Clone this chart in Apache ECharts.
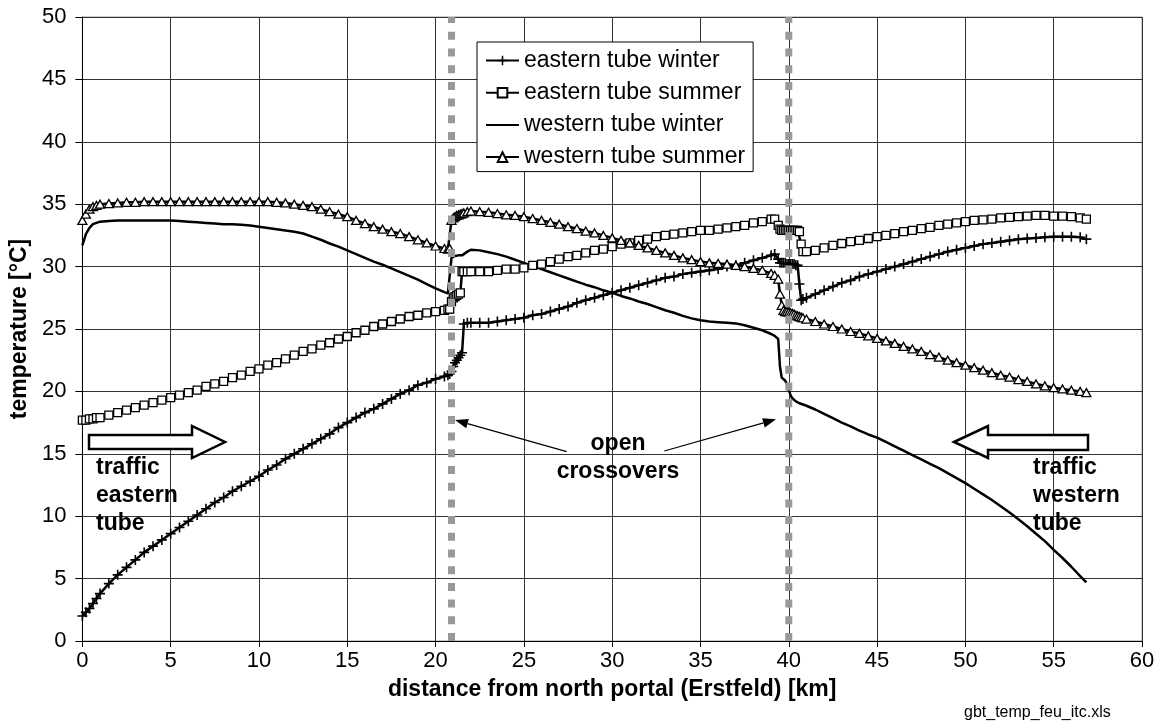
<!DOCTYPE html>
<html><head><meta charset="utf-8">
<script src="https://cdn.jsdelivr.net/npm/echarts@6/dist/echarts.min.js"></script>
<style>html,body{margin:0;padding:0;background:#fff}#c{width:1162px;height:726px}</style>
</head><body><div id="c"></div>
<script>
// distance from north portal [km]
const km = [
  0, 0.2, 0.4, 0.6, 0.8, 1.0,
  1.5, 2, 2.5, 3, 3.5, 4, 4.5, 5, 5.5, 6, 6.5, 7, 7.5, 8, 8.5, 9, 9.5, 10, 10.5, 11, 11.5, 12, 12.5, 13, 13.5, 14, 14.5, 15, 15.5, 16, 16.5, 17, 17.5, 18, 18.5, 19, 19.5, 20, 20.5,
  20.7, 20.8, 20.9, 21.0, 21.1, 21.2, 21.3, 21.4, 21.5, 21.6, 21.8,
  22, 22.5, 23, 23.5, 24, 24.5, 25, 25.5, 26, 26.5, 27, 27.5, 28, 28.5, 29, 29.5, 30, 30.5, 31, 31.5, 32, 32.5, 33, 33.5, 34, 34.5, 35, 35.5, 36, 36.5, 37, 37.5, 38, 38.5, 39,
  39.2, 39.4, 39.5, 39.6, 39.7, 39.8, 39.9, 40.0, 40.1, 40.2, 40.3, 40.4, 40.5, 40.6, 40.7, 40.8,
  41, 41.5, 42, 42.5, 43, 43.5, 44, 44.5, 45, 45.5, 46, 46.5, 47, 47.5, 48, 48.5, 49, 49.5, 50, 50.5, 51, 51.5, 52, 52.5, 53, 53.5, 54, 54.5, 55, 55.5, 56, 56.5,
  56.85
];
const easternWinter = [
  2.0, 2.3, 2.6, 3.0, 3.4, 3.8,
  4.6, 5.3, 5.9, 6.5, 7.1, 7.6, 8.1, 8.6, 9.1, 9.6, 10.1, 10.6, 11.1, 11.5, 12.0, 12.4, 12.8, 13.2, 13.7, 14.1, 14.6, 15.0, 15.4, 15.8, 16.2, 16.6, 17.1, 17.5, 17.9, 18.3, 18.6, 19.0, 19.4, 19.8, 20.1, 20.5, 20.7, 21.0, 21.2,
  21.3, 21.4, 21.6, 22.0, 22.3, 22.5, 22.7, 22.9, 23.1, 25.4, 25.5,
  25.5, 25.5, 25.5, 25.6, 25.7, 25.8, 25.9, 26.1, 26.2, 26.4, 26.6, 26.8, 27.1, 27.3, 27.5, 27.7, 27.9, 28.1, 28.3, 28.5, 28.7, 28.9, 29.1, 29.2, 29.4, 29.5, 29.6, 29.7, 29.8, 30.0, 30.1, 30.3, 30.5, 30.7, 30.9,
  31.0, 30.6, 30.3, 30.3, 30.3, 30.3, 30.2, 30.2, 30.2, 30.2, 30.2, 30.1, 30.1, 28.6, 27.3, 27.4,
  27.5, 27.8, 28.1, 28.4, 28.7, 28.9, 29.2, 29.4, 29.6, 29.8, 30.0, 30.2, 30.4, 30.6, 30.8, 31.0, 31.2, 31.35, 31.5, 31.65, 31.8, 31.9, 32.0, 32.1, 32.2, 32.25, 32.3, 32.35, 32.4, 32.4, 32.4, 32.35,
  32.2
];
const easternSummer = [
  17.7, 17.7, 17.8, 17.8, 17.9, 17.9,
  18.1, 18.3, 18.5, 18.7, 18.9, 19.1, 19.3, 19.5, 19.7, 19.9, 20.1, 20.4, 20.6, 20.8, 21.1, 21.3, 21.6, 21.8, 22.1, 22.3, 22.6, 22.9, 23.2, 23.4, 23.7, 23.9, 24.2, 24.4, 24.7, 24.9, 25.2, 25.4, 25.6, 25.8, 26.0, 26.1, 26.3, 26.4, 26.5,
  26.6, 26.6, 27.2, 27.5, 27.6, 27.7, 27.8, 27.9, 29.6, 29.6, 29.6,
  29.6, 29.6, 29.6, 29.7, 29.8, 29.8, 29.9, 30.1, 30.2, 30.4, 30.6, 30.8, 30.9, 31.1, 31.3, 31.4, 31.6, 31.8, 31.9, 32.1, 32.2, 32.4, 32.5, 32.6, 32.7, 32.8, 32.9, 32.9, 33.0, 33.1, 33.2, 33.3, 33.5, 33.6, 33.8,
  33.8, 33.3, 33.0, 32.9, 32.9, 32.9, 32.9, 32.9, 32.9, 32.9, 32.9, 32.9, 32.9, 32.8, 31.8, 31.2,
  31.2, 31.3, 31.5, 31.7, 31.85, 32.0, 32.1, 32.25, 32.4, 32.5, 32.65, 32.8, 32.9, 33.05, 33.15, 33.3, 33.4, 33.5, 33.6, 33.7, 33.75, 33.8, 33.9, 33.95, 34.0, 34.05, 34.1, 34.1, 34.05, 34.05, 34.0, 33.9,
  33.8
];
const westernWinter = [
  31.7, 32.6, 33.1, 33.4, 33.5, 33.6,
  33.65, 33.7, 33.7, 33.7, 33.7, 33.7, 33.7, 33.7, 33.65, 33.6, 33.55, 33.5, 33.45, 33.4, 33.4, 33.35, 33.3, 33.2, 33.1, 33.0, 32.9, 32.8, 32.65, 32.4, 32.15, 31.85, 31.6, 31.3, 31.0, 30.7, 30.4, 30.15, 29.85, 29.55, 29.25, 28.95, 28.6, 28.25, 27.95,
  27.85, 27.8, 30.7, 30.8, 30.85, 30.9, 30.9, 30.9, 30.9, 30.95, 31.2,
  31.35, 31.3, 31.15, 31.0, 30.8, 30.55, 30.3, 30.05, 29.8, 29.55, 29.3, 29.05, 28.8, 28.55, 28.35, 28.1, 27.9, 27.65, 27.45, 27.2, 27.0, 26.75, 26.5, 26.3, 26.05, 25.85, 25.7, 25.6, 25.55, 25.5, 25.45, 25.3, 25.1, 24.9, 24.6,
  24.45, 24.2, 22.0, 21.1, 21.0, 20.85, 20.6, 20.1, 19.7, 19.45, 19.3, 19.2, 19.1, 19.05, 19.0, 18.95,
  18.85, 18.55, 18.2, 17.85, 17.5, 17.2, 16.85, 16.55, 16.3, 15.95, 15.6, 15.25, 14.9, 14.55, 14.2, 13.85, 13.45, 13.05, 12.65, 12.2, 11.75, 11.3, 10.8, 10.3, 9.75, 9.2, 8.6, 8.0, 7.3, 6.65, 5.95, 5.2,
  4.7
];
const westernSummer = [
  33.7, 34.2, 34.6, 34.8, 34.9, 35.0,
  35.05, 35.1, 35.15, 35.15, 35.2, 35.2, 35.2, 35.2, 35.2, 35.2, 35.2, 35.2, 35.2, 35.2, 35.2, 35.2, 35.2, 35.2, 35.2, 35.15, 35.1, 35.0, 34.9, 34.8, 34.6, 34.4, 34.2, 34.0, 33.7, 33.45, 33.2, 33.0, 32.8, 32.65, 32.4, 32.15, 31.9, 31.65, 31.45,
  31.4, 31.45, 33.7, 33.9, 34.0, 34.1, 34.15, 34.2, 34.25, 34.3, 34.4,
  34.45, 34.4, 34.35, 34.25, 34.15, 34.1, 34.0, 33.85, 33.7, 33.55, 33.4, 33.2, 33.05, 32.85, 32.7, 32.5, 32.3, 32.1, 31.9, 31.7, 31.5, 31.3, 31.1, 30.9, 30.7, 30.55, 30.4, 30.3, 30.25, 30.2, 30.1, 30.0, 29.85, 29.7, 29.45,
  29.3, 29.0, 27.8, 26.9, 26.5, 26.4, 26.4, 26.35, 26.3, 26.25, 26.2, 26.1, 26.05, 26.0, 25.95, 25.9,
  25.8, 25.6, 25.4, 25.2, 25.0, 24.8, 24.65, 24.45, 24.25, 24.05, 23.85, 23.6, 23.4, 23.2, 22.95, 22.75, 22.5, 22.3, 22.1, 21.9, 21.7, 21.5, 21.3, 21.15, 20.95, 20.8, 20.6, 20.45, 20.3, 20.2, 20.1, 20.0,
  19.9
];
const seriesNames = ['eastern tube winter', 'eastern tube summer', 'western tube winter', 'western tube summer'];
const crossoversKm = [20.9, 40];
const xRange = [0, 60, 5];
const yRange = [0, 50, 5];

const FONT = '"Liberation Sans", Arial, Helvetica, sans-serif';
const pair = arr => km.map((x, i) => [x, arr[i]]);
const plusPath = 'path://M4.2,0H5.8V4.2H10V5.8H5.8V10H4.2V5.8H0V4.2H4.2Z';
const hollow = { color: '#fff', borderColor: '#000', borderWidth: 1.3 };

function lineSeries(name, data, symbol, size, itemStyle) {
  return {
    name, type: 'line', data: pair(data), symbol, symbolSize: size,
    showSymbol: true, showAllSymbol: true,
    lineStyle: { color: '#000', width: 2.5 },
    itemStyle, z: 3, animation: false, silent: true
  };
}

const series = [
  lineSeries(seriesNames[0], easternWinter, plusPath, 10, { color: '#000', borderWidth: 0 }),
  lineSeries(seriesNames[1], easternSummer, 'rect', 8, hollow),
  lineSeries(seriesNames[2], westernWinter, 'none', 0, { color: '#000' }),
  lineSeries(seriesNames[3], westernSummer, 'triangle', [9, 8], hollow)
];
crossoversKm.forEach((x, i) => {
  series.push({
    name: 'crossover' + i, type: 'line', data: [[x, yRange[0]], [x, yRange[1]]],
    symbol: 'none', silent: true, z: 4, animation: false,
    lineStyle: { color: '#999', width: 7, type: [8, 8.7] }
  });
});

// arrow helper for thin annotation arrows
function arrow(x1, y1, x2, y2) {
  const dx = x2 - x1, dy = y2 - y1, L = Math.hypot(dx, dy);
  const ux = dx / L, uy = dy / L, hl = 13, hw = 4.8;
  const bx = x2 - ux * hl, by = y2 - uy * hl;
  return [
    { type: 'line', shape: { x1, y1, x2: bx, y2: by }, style: { stroke: '#000', lineWidth: 1.2 }, z: 10 },
    { type: 'polygon', shape: { points: [[x2, y2], [bx - uy * hw, by + ux * hw], [bx + uy * hw, by - ux * hw]] }, style: { fill: '#000' }, z: 10 }
  ];
}
function label(text, x, y, align, size, weight) {
  return { type: 'text', z: 10, style: { text, x, y, align, verticalAlign: 'middle', textAlign: align, textVerticalAlign: 'middle', font: (weight || 'bold') + ' ' + (size || 23) + 'px ' + FONT, fill: '#000' } };
}

const graphic = [
  { type: 'polygon', z: 9, shape: { points: [[89, 435], [192, 435], [192, 426], [225, 442], [192, 458], [192, 449], [89, 449]] }, style: { fill: '#fff', stroke: '#000', lineWidth: 2.5 } },
  { type: 'polygon', z: 9, shape: { points: [[954, 442], [988, 426], [988, 435], [1088, 435], [1088, 450], [988, 450], [988, 458]] }, style: { fill: '#fff', stroke: '#000', lineWidth: 2.5 } },
  label('traffic', 96, 468, 'left'), label('eastern', 96, 496, 'left'), label('tube', 96, 524, 'left'),
  label('traffic', 1033, 468, 'left'), label('western', 1033, 496, 'left'), label('tube', 1033, 524, 'left'),
  label('open', 618, 444, 'center'), label('crossovers', 618, 472, 'center'),
  ...arrow(566.7, 451.7, 455, 420),
  ...arrow(664.3, 451, 776, 419.3),
  label('gbt_temp_feu_itc.xls', 964, 713, 'left', 16, 'normal')
];

const legendData = seriesNames.map(name =>
  name === seriesNames[2] ? { name, itemStyle: { opacity: 0 } } : { name });

const chart = echarts.init(document.getElementById('c'), null, { renderer: 'canvas' });
chart.setOption({
  animation: false,
  backgroundColor: '#fff',
  grid: { left: 78, right: 20, top: 17, bottom: 85, show: true, borderColor: '#999', borderWidth: 1, backgroundColor: 'transparent' },
  xAxis: {
    type: 'value', min: xRange[0], max: xRange[1], interval: xRange[2],
    name: 'distance from north portal (Erstfeld) [km]', nameLocation: 'middle', nameGap: 37,
    nameTextStyle: { fontSize: 23, fontWeight: 'bold', color: '#000', fontFamily: FONT },
    axisLine: { show: true, onZero: false, lineStyle: { color: '#000', width: 1 } },
    axisTick: { show: true, length: 6, lineStyle: { color: '#000' } },
    axisLabel: { fontSize: 22, color: '#000', margin: 9, fontFamily: FONT },
    splitLine: { show: true, lineStyle: { color: '#333', width: 1 } }
  },
  yAxis: {
    type: 'value', min: yRange[0], max: yRange[1], interval: yRange[2],
    name: 'temperature [°C]', nameLocation: 'middle', nameGap: 47,
    nameTextStyle: { fontSize: 23, fontWeight: 'bold', color: '#000', fontFamily: FONT },
    axisLine: { show: true, onZero: false, lineStyle: { color: '#000', width: 1 } },
    axisTick: { show: true, length: 7, lineStyle: { color: '#000' } },
    axisLabel: { fontSize: 22, color: '#000', margin: 16, fontFamily: FONT },
    splitLine: { show: true, lineStyle: { color: '#333', width: 1 } }
  },
  legend: {
    data: legendData, orient: 'vertical', left: 477, top: 42, padding: [7, 8, 3, 8],
    itemGap: 9.2, itemWidth: 33, itemHeight: 12,
    borderColor: '#000', borderWidth: 1, backgroundColor: '#fff', borderRadius: 0,
    textStyle: { fontSize: 23, color: '#000', fontFamily: FONT, lineHeight: 22 },
    selectedMode: false
  },
  series,
  graphic
});
</script>
</body></html>
